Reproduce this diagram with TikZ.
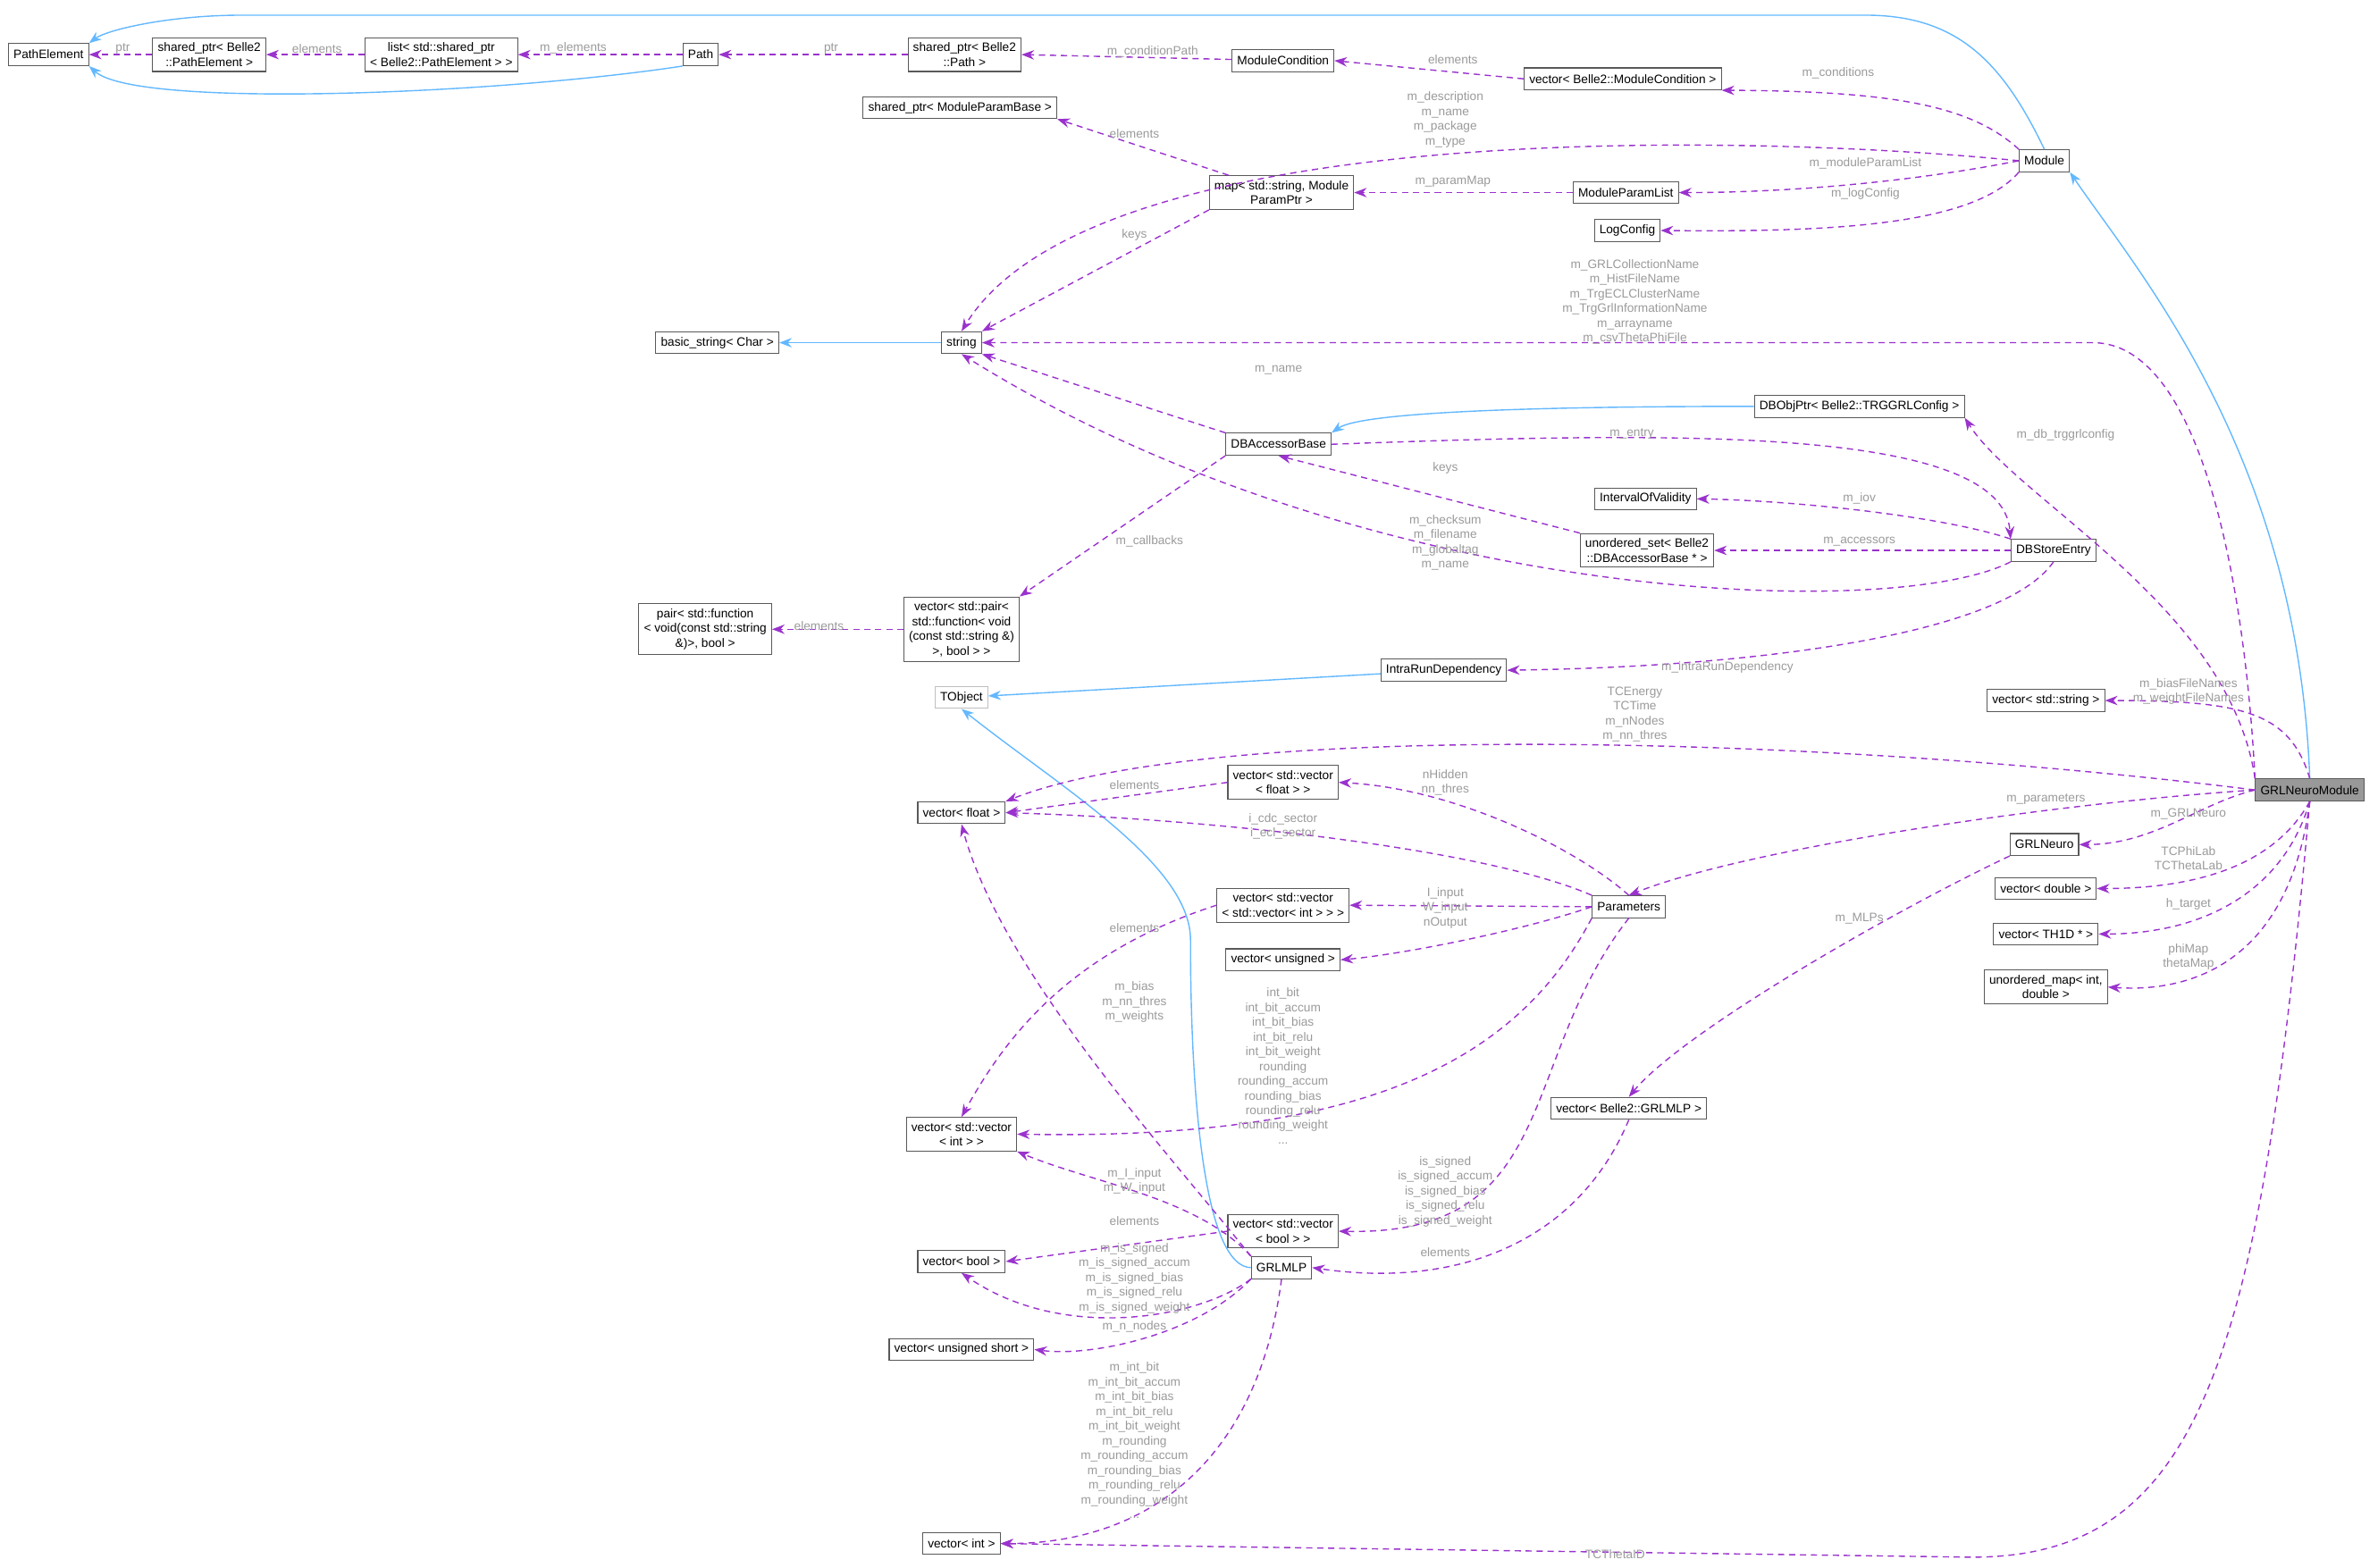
\documentclass[tikz,border=0pt]{standalone}
\usepackage{fontspec}
\setmainfont{Liberation Sans}
\usetikzlibrary{arrows.meta}
\definecolor{depcol}{HTML}{9A32CD}
\definecolor{inhcol}{HTML}{63B8FF}
\definecolor{lblcol}{HTML}{9A9A9A}
\tikzset{
  box/.style={draw=black!65, line width=0.3pt, fill=white, font=\fontsize{3.9}{4.7}\selectfont, inner sep=1.6pt, align=center, minimum height=7pt},
  hl/.style={box, fill=black!40},
  tobj/.style={box, draw=black!25},
  dep/.style={depcol, line width=0.4pt, dash pattern=on 2pt off 1.5pt, -{Stealth[length=4pt,width=3pt]}},
  inh/.style={inhcol, line width=0.4pt, -{Stealth[length=4pt,width=3pt]}},
  lbl/.style={text=lblcol, font=\fontsize{3.9}{4.7}\selectfont, align=center, inner sep=0pt}
}
\begin{document}
\begin{tikzpicture}[x=0.017cm, y=-0.017cm]
    \useasboundingbox (0,0) rectangle (1568,1034);
    % classes
    \node[box] (PathElement) at (32,36) {PathElement};
    \node[box] (SpPathElem) at (138,36) {shared\_ptr< Belle2\\::PathElement >};
    \node[box] (ListPathElem) at (291,36) {list< std::shared\_ptr\\< Belle2::PathElement > >};
    \node[box] (Path) at (462,36) {Path};
    \node[box] (SpPath) at (636,36) {shared\_ptr< Belle2\\::Path >};
    \node[box] (ModCond) at (846,40) {ModuleCondition};
    \node[box] (VecModCond) at (1070,52) {vector< Belle2::ModuleCondition >};
    \node[box] (SpParamBase) at (633,71) {shared\_ptr< ModuleParamBase >};
    \node[box] (ParamMap) at (845,127) {map< std::string, Module\\ParamPtr >};
    \node[box] (ParamList) at (1072,127) {ModuleParamList};
    \node[box] (LogConfig) at (1073,152) {LogConfig};
    \node[box] (Module) at (1348,106) {Module};
    \node[box] (BasicString) at (473,226) {basic\_string< Char >};
    \node[box] (String) at (634,226) {string};
    \node[box] (DBObjPtr) at (1226,268) {DBObjPtr< Belle2::TRGGRLConfig >};
    \node[box] (DBAccessor) at (843,293) {DBAccessorBase};
    \node[box] (IOV) at (1085,329) {IntervalOfValidity};
    \node[box] (AccessorSet) at (1086,363) {unordered\_set< Belle2\\::DBAccessorBase * >};
    \node[box] (DBStore) at (1354,363) {DBStoreEntry};
    \node[box] (PairFn) at (465,415) {pair< std::function\\< void(const std::string\\\&)>, bool >};
    \node[box] (VecPairFn) at (634,415) {vector< std::pair<\\std::function< void\\(const std::string \&)\\>, bool > >};
    \node[box] (IntraRun) at (952,442) {IntraRunDependency};
    \node[tobj] (TObject) at (634,460) {TObject};
    \node[box] (VecString) at (1349,462) {vector< std::string >};
    \node[hl] (GRLNeuroModule) at (1523,521) {GRLNeuroModule};
    \node[box] (VecVecFloat) at (846,516) {vector< std::vector\\< float > >};
    \node[box] (VecFloat) at (634,536) {vector< float >};
    \node[box] (GRLNeuro) at (1348,557) {GRLNeuro};
    \node[box] (VecVecVecInt) at (846,597) {vector< std::vector\\< std::vector< int > > >};
    \node[box] (Parameters) at (1074,598) {Parameters};
    \node[box] (VecDouble) at (1349,586) {vector< double >};
    \node[box] (VecUnsigned) at (846,633) {vector< unsigned >};
    \node[box] (VecTH1D) at (1349,616) {vector< TH1D * >};
    \node[box] (UMap) at (1349,651) {unordered\_map< int,\\double >};
    \node[box] (VecVecInt) at (634,748) {vector< std::vector\\< int > >};
    \node[box] (VecGRLMLP) at (1074,731) {vector< Belle2::GRLMLP >};
    \node[box] (VecVecBool) at (846,812) {vector< std::vector\\< bool > >};
    \node[box] (VecBool) at (634,832) {vector< bool >};
    \node[box] (GRLMLP) at (845,836) {GRLMLP};
    \node[box] (VecUShort) at (634,890) {vector< unsigned short >};
    \node[box] (VecInt) at (634,1018) {vector< int >};
    % inheritance
    \draw[inh] (Path.south west) .. controls (330,62) and (90,72) .. (PathElement.south east);
    \draw[inh] (Module.north) .. controls (1320,40) and (1290,10) .. (1230,10) -- (160,10) .. controls (110,10) and (70,20) .. (PathElement.north east);
    \draw[inh] (GRLNeuroModule.north) .. controls (1515,300) and (1410,180) .. (Module.south east);
    \draw[inh] (String) -- (BasicString);
    \draw[inh] (DBObjPtr.west) .. controls (1050,268) and (900,270) .. (DBAccessor.north east);
    \draw[inh] (IntraRun) -- (TObject);
    \draw[inh] (GRLMLP.west) .. controls (785,835) and (785,650) .. (785,620) .. controls (785,570) and (700,520) .. (TObject.south);
    % members
    \draw[dep] (SpPathElem) -- (PathElement);
    \draw[dep] (ListPathElem) -- (SpPathElem);
    \draw[dep] (Path) -- (ListPathElem);
    \draw[dep] (SpPath) -- (Path);
    \draw[dep] (ModCond) -- (SpPath.east);
    \draw[dep] (VecModCond.west) -- (ModCond.east);
    \draw[dep] (Module.north west) .. controls (1300,70) and (1250,60) .. (VecModCond.south east);
    \draw[dep] (Module.west) .. controls (1150,88) and (720,78) .. (String.north);
    \draw[dep] (ParamMap) -- (SpParamBase.south east);
    \draw[dep] (ParamMap.south west) -- (String.north east);
    \draw[dep] (ParamList) -- (ParamMap);
    \draw[dep] (Module.west) .. controls (1260,120) and (1180,127) .. (ParamList.east);
    \draw[dep] (Module.south west) .. controls (1300,150) and (1200,153) .. (LogConfig.east);
    \draw[dep] (GRLNeuroModule.north west) .. controls (1480,380) and (1450,226) .. (1380,226) -- (String.east);
    \draw[dep] (DBAccessor.north west) -- (String.south east);
    \draw[dep] (GRLNeuroModule.north west) .. controls (1470,400) and (1330,330) .. (DBObjPtr.south east);
    \draw[dep] (DBAccessor.east) .. controls (1100,285) and (1320,280) .. (DBStore.north west);
    \draw[dep] (AccessorSet.north west) -- (DBAccessor.south);
    \draw[dep] (DBStore.north west) .. controls (1280,340) and (1180,330) .. (IOV.east);
    \draw[dep] (DBStore.west) -- (AccessorSet.east);
    \draw[dep] (DBStore.south west) .. controls (1250,410) and (900,400) .. (String.south);
    \draw[dep] (DBAccessor.south west) -- (VecPairFn.north east);
    \draw[dep] (VecPairFn) -- (PairFn);
    \draw[dep] (DBStore.south) .. controls (1320,420) and (1150,440) .. (IntraRun.east);
    \draw[dep] (GRLNeuroModule.north) .. controls (1510,470) and (1480,462) .. (VecString.east);
    \draw[dep] (GRLNeuroModule.west) .. controls (1200,485) and (800,475) .. (VecFloat.north east);
    \draw[dep] (VecVecFloat.west) -- (VecFloat.east);
    \draw[dep] (Parameters.north) .. controls (1040,560) and (960,520) .. (VecVecFloat.east);
    \draw[dep] (Parameters.north west) .. controls (980,560) and (800,540) .. (VecFloat.east);
    \draw[dep] (GRLNeuroModule.west) .. controls (1350,530) and (1150,560) .. (Parameters.north);
    \draw[dep] (GRLNeuroModule.west) .. controls (1450,530) and (1420,557) .. (GRLNeuro.east);
    \draw[dep] (GRLNeuroModule.south) .. controls (1500,570) and (1450,586) .. (VecDouble.east);
    \draw[dep] (GRLNeuroModule.south) .. controls (1505,590) and (1450,616) .. (VecTH1D.east);
    \draw[dep] (GRLNeuroModule.south) .. controls (1510,630) and (1450,655) .. (UMap.east);
    \draw[dep] (GRLNeuro.south west) .. controls (1250,600) and (1110,680) .. (VecGRLMLP.north);
    \draw[dep] (Parameters.west) -- (VecVecVecInt.east);
    \draw[dep] (Parameters.west) .. controls (1000,615) and (920,630) .. (VecUnsigned.east);
    \draw[dep] (VecVecVecInt.west) .. controls (700,630) and (660,690) .. (VecVecInt.north);
    \draw[dep] (Parameters.south west) .. controls (1000,700) and (900,752) .. (VecVecInt.east);
    \draw[dep] (Parameters.south) .. controls (1000,700) and (1030,815) .. (VecVecBool.east);
    \draw[dep] (GRLMLP.north west) .. controls (770,760) and (660,640) .. (VecFloat.south);
    \draw[dep] (GRLMLP.north west) .. controls (790,790) and (720,780) .. (VecVecInt.south east);
    \draw[dep] (VecVecBool.west) -- (VecBool.east);
    \draw[dep] (GRLMLP.south west) .. controls (790,870) and (700,885) .. (VecBool.south);
    \draw[dep] (GRLMLP.south west) .. controls (790,880) and (720,895) .. (VecUShort.east);
    \draw[dep] (GRLMLP.south) .. controls (830,960) and (760,1018) .. (VecInt.east);
    \draw[dep] (VecGRLMLP.south) .. controls (1040,820) and (960,850) .. (GRLMLP.east);
    \draw[dep] (GRLNeuroModule.south) .. controls (1490,900) and (1450,1027) .. (1300,1027) -- (VecInt.east);
    % labels
    \node[lbl] at (81,32) {ptr};
    \node[lbl] at (209,32) {elements};
    \node[lbl] at (378,32) {m\_elements};
    \node[lbl] at (548,32) {ptr};
    \node[lbl] at (760,34) {m\_conditionPath};
    \node[lbl] at (958,39) {elements};
    \node[lbl] at (1212,48) {m\_conditions};
    \node[lbl] at (953,79) {m\_description\\m\_name\\m\_package\\m\_type};
    \node[lbl] at (748,88) {elements};
    \node[lbl] at (748,155) {keys};
    \node[lbl] at (958,120) {m\_paramMap};
    \node[lbl] at (1230,108) {m\_moduleParamList};
    \node[lbl] at (1230,128) {m\_logConfig};
    \node[lbl] at (1078,199) {m\_GRLCollectionName\\m\_HistFileName\\m\_TrgECLClusterName\\m\_TrgGrlInformationName\\m\_arrayname\\m\_csvThetaPhiFile};
    \node[lbl] at (843,244) {m\_name};
    \node[lbl] at (1362,287) {m\_db\_trggrlconfig};
    \node[lbl] at (1076,286) {m\_entry};
    \node[lbl] at (953,309) {keys};
    \node[lbl] at (1226,329) {m\_iov};
    \node[lbl] at (1226,357) {m\_accessors};
    \node[lbl] at (953,358) {m\_checksum\\m\_filename\\m\_globaltag\\m\_name};
    \node[lbl] at (758,357) {m\_callbacks};
    \node[lbl] at (540,413) {elements};
    \node[lbl] at (1139,440) {m\_intraRunDependency};
    \node[lbl] at (1443,456) {m\_biasFileNames\\m\_weightFileNames};
    \node[lbl] at (1078,471) {TCEnergy\\TCTime\\m\_nNodes\\m\_nn\_thres};
    \node[lbl] at (748,518) {elements};
    \node[lbl] at (953,516) {nHidden\\nn\_thres};
    \node[lbl] at (846,545) {i\_cdc\_sector\\i\_ecl\_sector};
    \node[lbl] at (1349,527) {m\_parameters};
    \node[lbl] at (1443,537) {m\_GRLNeuro};
    \node[lbl] at (1443,566) {TCPhiLab\\TCThetaLab};
    \node[lbl] at (1443,596) {h\_target};
    \node[lbl] at (1443,631) {phiMap\\thetaMap};
    \node[lbl] at (1226,606) {m\_MLPs};
    \node[lbl] at (953,594) {I\_input\\W\_input};
    \node[lbl] at (953,609) {nOutput};
    \node[lbl] at (748,612) {elements};
    \node[lbl] at (846,703) {int\_bit\\int\_bit\_accum\\int\_bit\_bias\\int\_bit\_relu\\int\_bit\_weight\\rounding\\rounding\_accum\\rounding\_bias\\rounding\_relu\\rounding\_weight\\...};
    \node[lbl] at (953,786) {is\_signed\\is\_signed\_accum\\is\_signed\_bias\\is\_signed\_relu\\is\_signed\_weight};
    \node[lbl] at (748,661) {m\_bias\\m\_nn\_thres\\m\_weights};
    \node[lbl] at (748,779) {m\_I\_input\\m\_W\_input};
    \node[lbl] at (748,805) {elements};
    \node[lbl] at (748,843) {m\_is\_signed\\m\_is\_signed\_accum\\m\_is\_signed\_bias\\m\_is\_signed\_relu\\m\_is\_signed\_weight};
    \node[lbl] at (748,875) {m\_n\_nodes};
    \node[lbl] at (748,950) {m\_int\_bit\\m\_int\_bit\_accum\\m\_int\_bit\_bias\\m\_int\_bit\_relu\\m\_int\_bit\_weight\\m\_rounding\\m\_rounding\_accum\\m\_rounding\_bias\\m\_rounding\_relu\\m\_rounding\_weight\\...};
    \node[lbl] at (953,826) {elements};
    \node[lbl] at (1065,1025) {TCThetaID};
\end{tikzpicture}
\end{document}
